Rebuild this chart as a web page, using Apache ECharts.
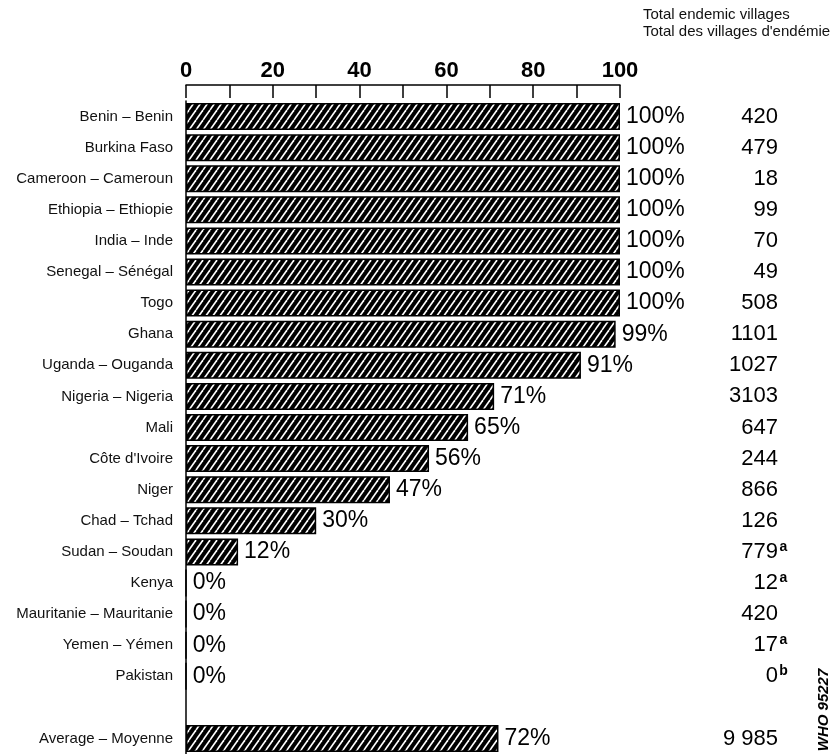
<!DOCTYPE html>
<html>
<head>
<meta charset="utf-8">
<script src="https://cdn.jsdelivr.net/npm/echarts@6/dist/echarts.min.js"></script>
<style>
html,body{margin:0;padding:0;background:#fff;}
#chart{width:840px;height:754px;}
</style>
</head>
<body>
<div id="chart"></div>
<script>
const categories = ['Benin – Benin','Burkina Faso','Cameroon – Cameroun','Ethiopia – Ethiopie','India – Inde','Senegal – Sénégal','Togo','Ghana','Uganda – Ouganda','Nigeria – Nigeria','Mali',"Côte d'Ivoire",'Niger','Chad – Tchad','Sudan – Soudan','Kenya','Mauritanie – Mauritanie','Yemen – Yémen','Pakistan','','Average – Moyenne'];
const coveragePct = [100,100,100,100,100,100,100,99,91,71,65,56,47,30,12,0,0,0,0,null,72];
const totalVillages = ['420','479','18','99','70','49','508','1101','1027','3103','647','244','866','126','779','12','420','17','0','','9 985'];
const footnotes = ['','','','','','','','','','','','','','','a','a','','a','b','',''];
const xTicks = [0,20,40,60,80,100];
const headerText = 'Total endemic villages\nTotal des villages d\'endémie';
const creditText = 'WHO 95227';

function hatch() {
  const c = document.createElement('canvas');
  const w = 7, h = 10;
  c.width = w; c.height = h;
  const g = c.getContext('2d');
  g.fillStyle = '#000';
  g.fillRect(0, 0, w, h);
  g.strokeStyle = '#fff';
  g.lineWidth = 1.6;
  for (const k of [-w, 0, w]) {
    g.beginPath();
    g.moveTo(k, h);
    g.lineTo(k + w, 0);
    g.stroke();
  }
  return c;
}

const chart = echarts.init(document.getElementById('chart'));
const font = "'Liberation Sans', Arial, sans-serif";
chart.setOption({
  animation: false,
  backgroundColor: '#fff',
  title: {
    text: headerText,
    left: 643, top: 6, padding: 0,
    textStyle: {fontFamily: font, fontSize: 15, fontWeight: 'normal', color: '#111', lineHeight: 17}
  },
  graphic: [{
    type: 'text',
    x: 824, y: 710,
    rotation: Math.PI / 2,
    style: {text: creditText, fontFamily: font, fontSize: 15, fontWeight: 'bold', fontStyle: 'italic', fill: '#000', textAlign: 'center', textVerticalAlign: 'middle'}
  }],
  grid: {left: 186, right: 220, top: 101, bottom: 0, containLabel: false},
  xAxis: {
    type: 'value', position: 'top', min: 0, max: 100, interval: 10, offset: 16,
    axisLine: {show: true, lineStyle: {color: '#000', width: 1.5}},
    axisTick: {show: true, inside: true, length: 13, lineStyle: {color: '#000', width: 1.5}},
    splitLine: {show: false},
    axisLabel: {
      margin: 3,
      fontFamily: font,
      fontSize: 22, fontWeight: 'bold', color: '#000',
      formatter: v => xTicks.indexOf(v) >= 0 ? String(v) : ''
    }
  },
  yAxis: [{
    type: 'category', data: categories, inverse: true,
    axisLine: {show: true, lineStyle: {color: '#000', width: 1.5}},
    axisTick: {show: false},
    axisLabel: {margin: 13, fontFamily: font, fontSize: 15, color: '#111', interval: 0}
  }, {
    type: 'category', data: totalVillages, inverse: true, position: 'right',
    axisLine: {show: false}, axisTick: {show: false},
    axisLabel: {
      margin: 169, align: 'right', interval: 0,
      fontFamily: font, fontSize: 22, color: '#000',
      formatter: (v, i) => v === '' ? '' : (footnotes[i] ? v + '{sup|' + footnotes[i] + '}' : v + '{pad| }'),
      rich: {
        sup: {fontFamily: font, fontSize: 14, fontWeight: 'bold', color: '#000', width: 11, align: 'left', verticalAlign: 'top', lineHeight: 24},
        pad: {fontSize: 14, width: 11, lineHeight: 24}
      }
    }
  }],
  series: [{
    type: 'bar',
    data: coveragePct,
    barWidth: 27,
    itemStyle: {color: {image: hatch(), repeat: 'repeat'}, borderColor: '#000', borderWidth: 1.5},
    label: {
      show: true, position: 'right', distance: 6,
      fontFamily: font, fontSize: 23, color: '#000',
      formatter: p => p.value == null ? '' : p.value + '%'
    }
  }]
});
</script>
</body>
</html>
